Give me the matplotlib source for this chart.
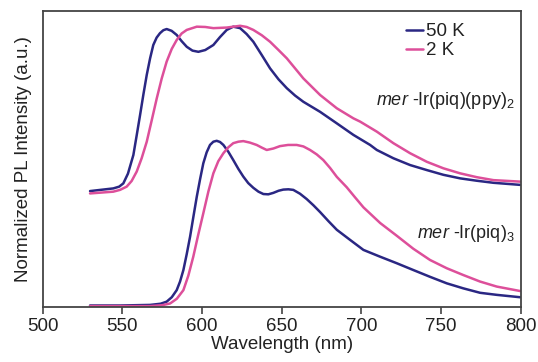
import matplotlib
matplotlib.use("Agg")
import matplotlib.pyplot as plt

plt.rcParams['font.family'] = ['Liberation Sans', 'DejaVu Sans']
plt.rcParams['mathtext.fontset'] = 'custom'
plt.rcParams['mathtext.rm'] = 'Liberation Sans'
plt.rcParams['mathtext.it'] = 'Liberation Sans:italic'

# mer-Ir(piq)(ppy)2, 50 K
wl_ppy_50 = [529.7, 544.3, 548.0, 550.6, 553.5, 556.9, 559.0, 561.1, 563.2, 565.3, 567.4, 569.4,
             571.5, 573.6, 575.7, 577.8, 580.9, 584.1, 587.2, 590.4, 594.0, 597.7, 602.0, 607.1,
             611.3, 615.5, 619.6, 623.9, 628.0, 632.2, 637.5, 642.7, 648.0, 653.2, 658.4, 663.6,
             674.1, 684.6, 695.0, 705.5, 709.7, 720.1, 730.6, 741.1, 751.5, 762.0, 772.4, 782.9,
             799.6]
int_ppy_50 = [0.391, 0.400, 0.406, 0.417, 0.450, 0.513, 0.580, 0.648, 0.718, 0.784, 0.840, 0.885,
              0.910, 0.925, 0.935, 0.939, 0.933, 0.919, 0.898, 0.879, 0.866, 0.862, 0.868, 0.885,
              0.912, 0.936, 0.947, 0.942, 0.922, 0.896, 0.851, 0.806, 0.769, 0.739, 0.714, 0.693,
              0.659, 0.620, 0.581, 0.547, 0.530, 0.502, 0.479, 0.462, 0.446, 0.434, 0.426, 0.419,
              0.412]

# mer-Ir(piq)(ppy)2, 2 K
wl_ppy_2 = [529.7, 544.3, 548.5, 552.7, 555.8, 559.0, 562.1, 565.3, 568.4, 571.6, 574.7, 577.8,
            581.0, 584.1, 587.2, 590.4, 596.7, 602.0, 607.1, 615.5, 623.9, 628.0, 632.2, 637.5,
            642.7, 648.0, 653.2, 658.4, 663.6, 674.1, 684.6, 695.0, 699.2, 709.7, 720.1, 730.6,
            741.1, 751.5, 762.0, 772.4, 782.9, 799.6]
int_ppy_2 = [0.383, 0.389, 0.395, 0.406, 0.425, 0.457, 0.502, 0.558, 0.630, 0.705, 0.772, 0.829,
             0.872, 0.902, 0.924, 0.936, 0.947, 0.946, 0.942, 0.944, 0.950, 0.946, 0.936, 0.918,
             0.896, 0.868, 0.840, 0.806, 0.772, 0.716, 0.671, 0.637, 0.626, 0.592, 0.553, 0.519,
             0.490, 0.468, 0.451, 0.438, 0.428, 0.423]

# mer-Ir(piq)3, 50 K
wl_piq_50 = [529.7, 548.5, 567.4, 574.0, 577.8, 581.0, 584.1, 586.2, 588.3, 590.4, 592.5, 594.6,
             596.7, 598.8, 600.8, 602.9, 605.0, 607.1, 609.2, 611.3, 613.4, 616.5, 619.6, 622.8,
             625.9, 629.0, 632.2, 635.4, 638.5, 641.6, 644.8, 648.0, 651.0, 654.2, 657.3, 661.5,
             665.7, 669.9, 674.1, 679.4, 684.6, 692.9, 701.3, 711.8, 722.2, 732.6, 743.1, 753.6,
             764.0, 774.5, 785.0, 799.6]
int_piq_50 = [0.004, 0.004, 0.006, 0.010, 0.017, 0.032, 0.056, 0.085, 0.124, 0.178, 0.237, 0.305,
              0.372, 0.432, 0.485, 0.522, 0.547, 0.558, 0.561, 0.557, 0.547, 0.524, 0.496, 0.466,
              0.440, 0.418, 0.402, 0.389, 0.381, 0.380, 0.385, 0.392, 0.396, 0.397, 0.395, 0.382,
              0.364, 0.343, 0.320, 0.289, 0.260, 0.226, 0.192, 0.169, 0.147, 0.124, 0.101, 0.079,
              0.062, 0.047, 0.040, 0.032]

# mer-Ir(piq)3, 2 K
wl_piq_2 = [529.7, 567.4, 575.0, 580.0, 584.2, 588.3, 591.4, 594.5, 597.6, 600.8, 604.0, 607.1,
            610.2, 613.4, 616.5, 619.6, 622.8, 625.9, 630.0, 634.3, 637.5, 640.6, 644.8, 648.9,
            654.0, 659.4, 663.6, 667.8, 672.0, 676.1, 680.4, 684.6, 690.8, 696.0, 701.3, 711.8,
            722.2, 732.6, 743.1, 753.6, 764.0, 774.5, 785.0, 799.6]
int_piq_2 = [0.002, 0.002, 0.005, 0.011, 0.027, 0.056, 0.105, 0.169, 0.243, 0.316, 0.390, 0.451,
             0.492, 0.519, 0.539, 0.553, 0.558, 0.560, 0.555, 0.547, 0.538, 0.530, 0.535, 0.543,
             0.547, 0.547, 0.542, 0.530, 0.515, 0.496, 0.469, 0.439, 0.404, 0.370, 0.336, 0.283,
             0.240, 0.196, 0.158, 0.130, 0.107, 0.085, 0.068, 0.053]

x_ticks = [500, 550, 600, 650, 700, 750, 800]
series_labels = ['50 K', '2 K']

blue = '#2a2783'
pink = '#dd4f9a'
txt = '#222222'

fig = plt.figure(figsize=(5.38, 3.62), dpi=100)
ax = fig.add_axes([0.0794, 0.1528, 0.8884, 0.8168])

lw = 1.8
kw = dict(lw=lw, solid_joinstyle='round', solid_capstyle='round')
l1, = ax.plot(wl_ppy_50, int_ppy_50, color=blue, **kw)
l2, = ax.plot(wl_ppy_2, int_ppy_2, color=pink, **kw)
ax.plot(wl_piq_50, int_piq_50, color=blue, **kw)
ax.plot(wl_piq_2, int_piq_2, color=pink, **kw)

ax.set_xlim(500, 800)
ax.set_ylim(0, 1)
ax.set_xticks(x_ticks)
ax.set_xticklabels([str(t) for t in x_ticks], fontsize=13.5, color=txt)
ax.set_yticks([])
ax.tick_params(axis='x', direction='out', length=5, width=1.2, color='#444444', pad=3)
for s in ax.spines.values():
    s.set_color('#444444')
    s.set_linewidth(1.3)

ax.set_xlabel('Wavelength (nm)', fontsize=13.5, color=txt, labelpad=1)
ax.set_ylabel('Normalized PL Intensity (a.u.)', fontsize=13.5, color=txt, labelpad=8)

leg = ax.legend([l1, l2], series_labels, loc='upper left', bbox_to_anchor=(0.745, 0.985),
                frameon=False, fontsize=13.5, handlelength=0.9, handletextpad=0.15,
                labelspacing=0.1, borderaxespad=0)
for t in leg.get_texts():
    t.set_color(txt)

ax.text(796.5, 0.699, r'$\it{mer}$ -Ir(piq)(ppy)$_2$', ha='right', va='center', fontsize=13, color=txt)
ax.text(796.5, 0.249, r'$\it{mer}$ -Ir(piq)$_3$', ha='right', va='center', fontsize=13, color=txt)

fig.savefig('out.png', dpi=100)
